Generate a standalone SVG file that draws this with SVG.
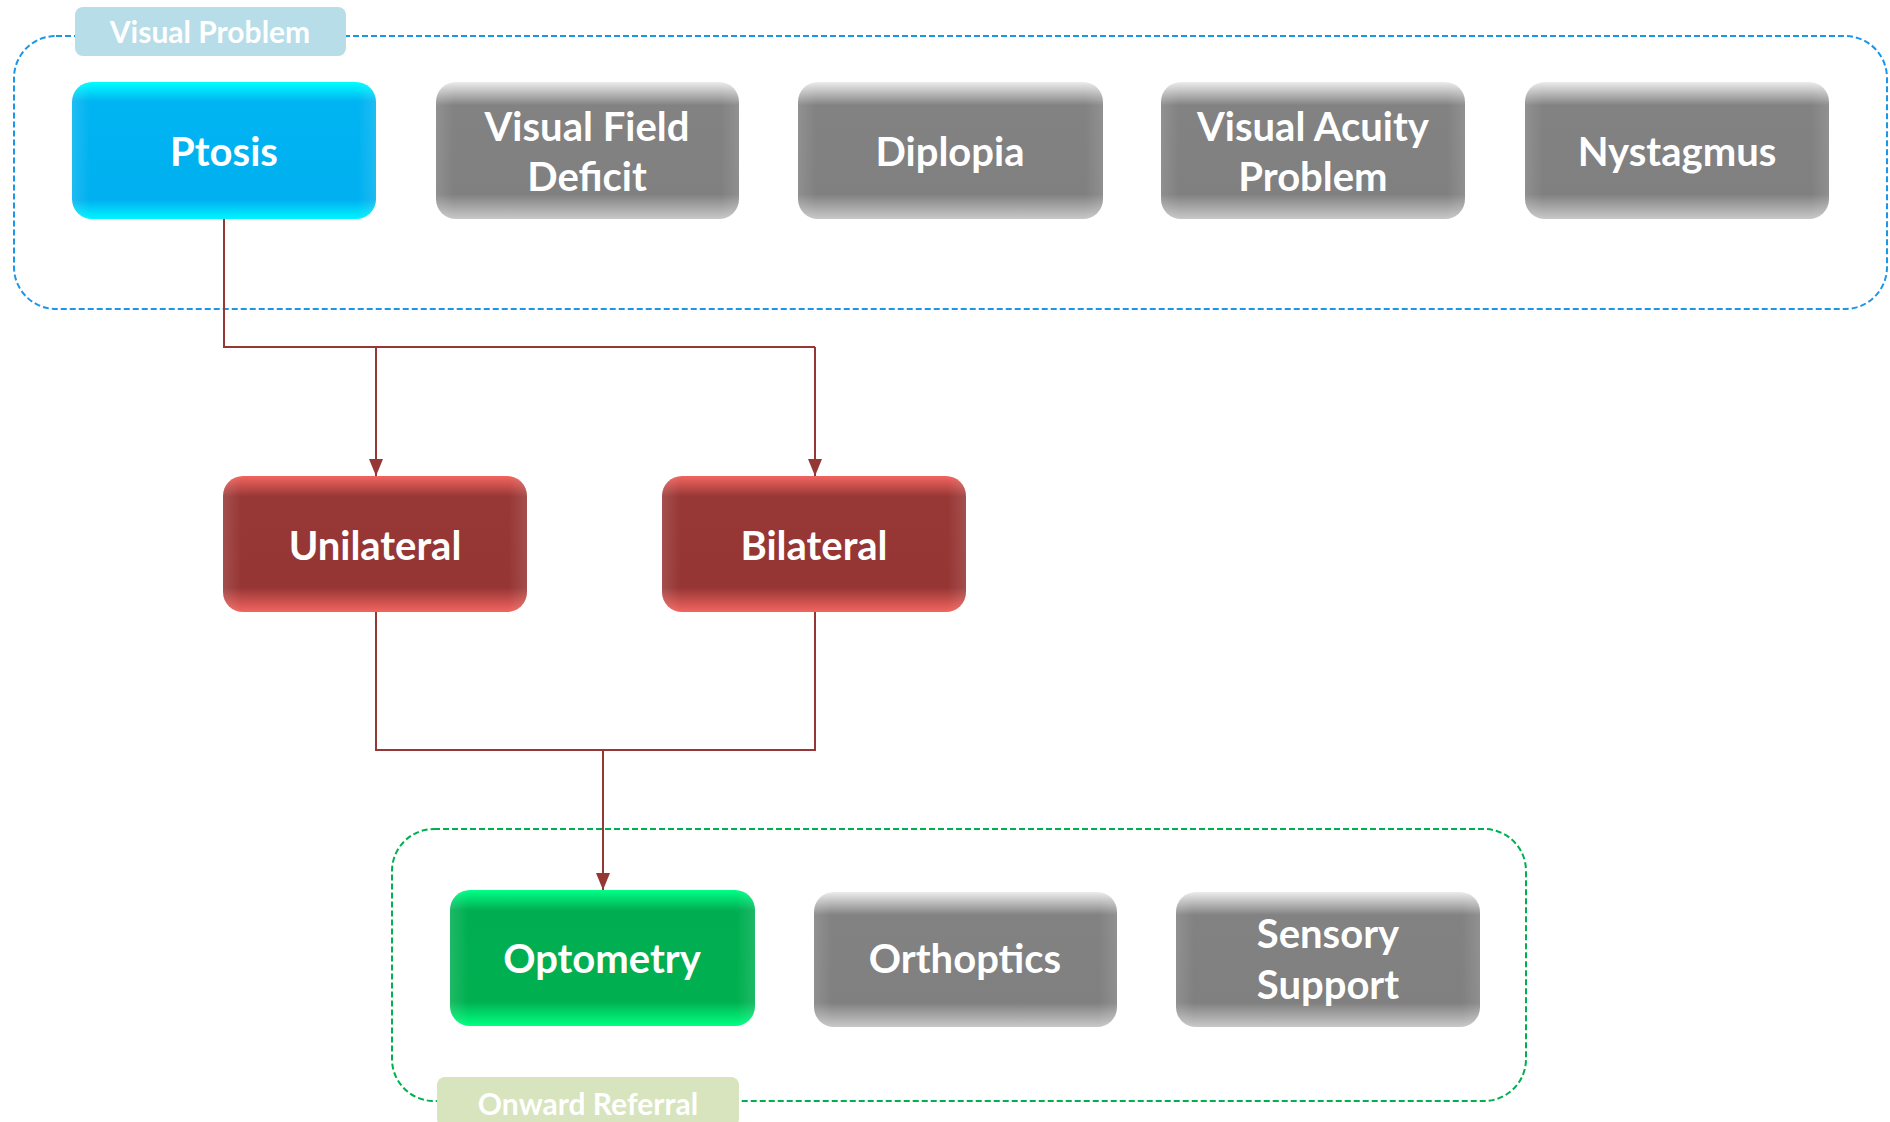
<svg xmlns="http://www.w3.org/2000/svg" width="1890" height="1122" viewBox="0 0 1890 1122">
<defs>
<linearGradient id="gBlue" x1="0" y1="0" x2="0" y2="1">
<stop offset="0" stop-color="#00ffff"/><stop offset="0.14" stop-color="#00b4f2"/><stop offset="0.86" stop-color="#00b0f0"/><stop offset="1" stop-color="#00f4ff"/>
</linearGradient>
<linearGradient id="gRed" x1="0" y1="0" x2="0" y2="1">
<stop offset="0" stop-color="#f26560"/><stop offset="0.15" stop-color="#983836"/><stop offset="0.82" stop-color="#963634"/><stop offset="1" stop-color="#f26560"/>
</linearGradient>
<linearGradient id="gGreen" x1="0" y1="0" x2="0" y2="1">
<stop offset="0" stop-color="#00ff88"/><stop offset="0.15" stop-color="#00ae52"/><stop offset="0.82" stop-color="#00b050"/><stop offset="1" stop-color="#00ff80"/>
</linearGradient>
<linearGradient id="gGray" x1="0" y1="0" x2="0" y2="1">
<stop offset="0" stop-color="#ececec"/><stop offset="0.17" stop-color="#828282"/><stop offset="0.82" stop-color="#808080"/><stop offset="1" stop-color="#c8c8c8"/>
</linearGradient>
<linearGradient id="gSide" x1="0" y1="0" x2="1" y2="0">
<stop offset="0" stop-color="#ffffff" stop-opacity="0.12"/><stop offset="0.06" stop-color="#ffffff" stop-opacity="0"/><stop offset="0.94" stop-color="#ffffff" stop-opacity="0"/><stop offset="1" stop-color="#ffffff" stop-opacity="0.12"/>
</linearGradient>
<marker id="arr" viewBox="0 0 17 14" refX="17" refY="7" markerWidth="17" markerHeight="14" orient="auto" markerUnits="userSpaceOnUse">
<path d="M0,0 L17,7 L0,14 Z" fill="#953735"/>
</marker>
</defs>
<style>
.lbl{font-family:Lato,"Open Sans","Liberation Sans",sans-serif;font-weight:bold;font-size:40px;fill:#ffffff;text-anchor:middle}
.glbl{font-family:Lato,"Open Sans","Liberation Sans",sans-serif;font-weight:bold;font-size:30px;fill:#ffffff;text-anchor:middle}
.side{fill:url(#gSide)}
.conn{fill:none;stroke:#953735;stroke-width:2}
</style>
<rect width="1890" height="1122" fill="#ffffff"/>

<g id="group-visual-problem">
<rect x="14" y="36" width="1873" height="273" rx="42" ry="42" fill="none" stroke="#1e96e8" stroke-width="2" stroke-dasharray="6,3"/>
<rect x="75" y="7" width="271" height="49" rx="8" fill="#b7dde8"/>
<text class="glbl" x="210" y="43">Visual Problem</text>
</g>

<g id="group-onward-referral">
<rect x="392" y="829" width="1134" height="272" rx="42" ry="42" fill="none" stroke="#00b050" stroke-width="2" stroke-dasharray="6,3"/>
<rect x="437" y="1077" width="302" height="50" rx="8" fill="#d7e4bd"/>
<text class="glbl" x="588" y="1115">Onward Referral</text>
</g>

<g id="connectors">
<path class="conn" d="M224,219 V347 H815"/>
<path class="conn" d="M376,347 V476" marker-end="url(#arr)"/>
<path class="conn" d="M815,347 V476" marker-end="url(#arr)"/>
<path class="conn" d="M376,612 V750 H815 V612"/>
<path class="conn" d="M603,750 V890" marker-end="url(#arr)"/>
</g>

<g id="node-ptosis">
<rect x="72" y="82" width="304" height="137" rx="20" fill="url(#gBlue)"/>
<rect class="side" x="72" y="82" width="304" height="137" rx="20"/>
<text class="lbl" x="224" y="166">Ptosis</text>
</g>
<g id="node-visual-field-deficit">
<rect x="436" y="82" width="303" height="137" rx="20" fill="url(#gGray)"/>
<rect class="side" x="436" y="82" width="303" height="137" rx="20"/>
<text class="lbl" x="587" y="141">Visual Field</text>
<text class="lbl" x="587" y="191">Deficit</text>
</g>
<g id="node-diplopia">
<rect x="798" y="82" width="305" height="137" rx="20" fill="url(#gGray)"/>
<rect class="side" x="798" y="82" width="305" height="137" rx="20"/>
<text class="lbl" x="950" y="166">Diplopia</text>
</g>
<g id="node-visual-acuity-problem">
<rect x="1161" y="82" width="304" height="137" rx="20" fill="url(#gGray)"/>
<rect class="side" x="1161" y="82" width="304" height="137" rx="20"/>
<text class="lbl" x="1313" y="141">Visual Acuity</text>
<text class="lbl" x="1313" y="191">Problem</text>
</g>
<g id="node-nystagmus">
<rect x="1525" y="82" width="304" height="137" rx="20" fill="url(#gGray)"/>
<rect class="side" x="1525" y="82" width="304" height="137" rx="20"/>
<text class="lbl" x="1677" y="166">Nystagmus</text>
</g>

<g id="node-unilateral">
<rect x="223" y="476" width="304" height="136" rx="20" fill="url(#gRed)"/>
<rect class="side" x="223" y="476" width="304" height="136" rx="20"/>
<text class="lbl" x="375" y="560">Unilateral</text>
</g>
<g id="node-bilateral">
<rect x="662" y="476" width="304" height="136" rx="20" fill="url(#gRed)"/>
<rect class="side" x="662" y="476" width="304" height="136" rx="20"/>
<text class="lbl" x="814" y="560">Bilateral</text>
</g>

<g id="node-optometry">
<rect x="450" y="890" width="305" height="136" rx="20" fill="url(#gGreen)"/>
<rect class="side" x="450" y="890" width="305" height="136" rx="20"/>
<text class="lbl" x="602" y="973">Optometry</text>
</g>
<g id="node-orthoptics">
<rect x="814" y="892" width="303" height="135" rx="20" fill="url(#gGray)"/>
<rect class="side" x="814" y="892" width="303" height="135" rx="20"/>
<text class="lbl" x="965" y="973">Orthoptics</text>
</g>
<g id="node-sensory-support">
<rect x="1176" y="892" width="304" height="135" rx="20" fill="url(#gGray)"/>
<rect class="side" x="1176" y="892" width="304" height="135" rx="20"/>
<text class="lbl" x="1328" y="948">Sensory</text>
<text class="lbl" x="1328" y="999">Support</text>
</g>
</svg>
